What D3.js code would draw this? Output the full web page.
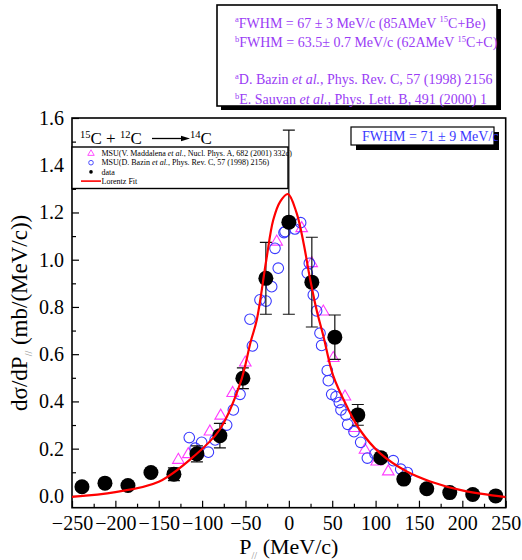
<!DOCTYPE html>
<html>
<head>
<meta charset="utf-8">
<script src="https://cdn.jsdelivr.net/npm/d3@7"></script>
<style>
  html, body { margin: 0; padding: 0; background: #fff; }
</style>
</head>
<body>
<svg id="chart" width="522" height="560"></svg>
<script>
// Measured momentum distribution (black points with error bars)
const dataP   = [-238.5, -212, -185.5, -159, -132.5, -106, -79.5, -53, -26.5, 0, 26.5, 53, 79.5, 106, 132.5, 159, 185.5, 212, 238.5];
const dataY   = [0.039, 0.054, 0.044, 0.099, 0.092, 0.178, 0.255, 0.498, 0.921, 1.159, 0.905, 0.672, 0.343, 0.162, 0.071, 0.030, 0.014, 0.006, 0.0];
const dataErr = [0.01, 0.01, 0.01, 0.01, 0.027, 0.034, 0.052, 0.044, 0.152, 0.39, 0.19, 0.094, 0.044, 0.012, 0.01, 0.008, 0.006, 0.005, 0.005];

// MSU, Bazin et al. (open blue circles)
const bazinP = [-114.8, -108, -100.5, -92.8, -85, -71.7, -64, -56.3, -53, -42, -44.8, -33.3, -26.3, -19.8, -12.2, -16, -5.6, -4.4, 7, 13.6,
                21.3, 23.6, 28.2, 32, 35.9, 37.8, 44.3, 45.5, 49.4, 54.4, 58.2, 60.1, 65.9, 67.8, 75.1, 82.8, 90.5, 99.3, 120.4, 129, 136.6];
const bazinY = [0.247, 0.202, 0.227, 0.185, 0.237, 0.300, 0.364, 0.430, 0.495, 0.635, 0.748, 0.830, 0.825, 0.886, 0.964, 1.048, 1.115, 1.119, 1.130, 1.157,
                0.943, 0.985, 0.851, 0.783, 0.689, 0.637, 0.531, 0.488, 0.430, 0.420, 0.395, 0.364, 0.343, 0.303, 0.272, 0.227, 0.160, 0.178, 0.149, 0.113, 0.099];

// MSU, Maddalena et al. (open magenta triangles)
const maddP = [-127.4, -116, -91, -78.6, -64.8, -50.2, -14, 14.8, 26.3, 39.7, 51.2, 64.7, 76.3, 87.8, 101.3, 114.6];
const maddY = [0.152, 0.176, 0.272, 0.339, 0.435, 0.564, 1.076, 1.133, 0.985, 0.780, 0.583, 0.420, 0.287, 0.195, 0.145, 0.103];

// Lorentz fit curve, sampled along P
const fitP = [-250, -200, -150, -110, -80, -56, -44, -37, -26, -18, -10, -1, 9, 17, 24, 32, 40, 51, 67, 82, 105, 136, 163, 201, 250];
const fitY = [-0.004, 0.016, 0.060, 0.166, 0.279, 0.477, 0.653, 0.745, 0.999, 1.168, 1.246, 1.278, 1.197, 1.07, 0.928, 0.787, 0.674, 0.51, 0.378, 0.279, 0.181, 0.103, 0.061, 0.022, -0.005];

// Axis ticks
const xMajor = [-250, -200, -150, -100, -50, 0, 50, 100, 150, 200, 250];
const xMinor = [-225, -175, -125, -75, -25, 25, 75, 125, 175, 225];
const yMajor = [0.0, 0.2, 0.4, 0.6, 0.8, 1.0, 1.2, 1.4, 1.6];
const yMinor = [0.1, 0.3, 0.5, 0.7, 0.9, 1.1, 1.3, 1.5];

const FONT = '"Liberation Serif"';
const svg = d3.select("#chart");
const L = 72, R = 505.7, T = 118, B = 507.7;
const x = d3.scaleLinear().domain([-250, 250]).range([L, R]);
const y = d3.scaleLinear().domain([-0.05, 1.6]).range([B, T]);

const purple = "#9a3cf5", blue = "#3a3aff", magenta = "#ff3cff";

svg.append("defs").append("clipPath").attr("id", "plot-clip")
  .append("rect").attr("x", L).attr("y", T).attr("width", R - L).attr("height", B - T);

// Axes with inward ticks
const gx = svg.append("g").attr("transform", `translate(0,${B})`)
  .call(d3.axisBottom(x).tickValues(xMajor).tickSize(-7).tickPadding(8).tickFormat(d3.format("d")));
svg.append("g").attr("transform", `translate(0,${B})`)
  .call(d3.axisBottom(x).tickValues(xMinor).tickSize(-4).tickFormat(""));
const gy = svg.append("g").attr("transform", `translate(${L},0)`)
  .call(d3.axisLeft(y).tickValues(yMajor).tickSize(-7).tickPadding(8).tickFormat(d3.format(".1f")));
svg.append("g").attr("transform", `translate(${L},0)`)
  .call(d3.axisLeft(y).tickValues(yMinor).tickSize(-4).tickFormat(""));
svg.selectAll(".domain").remove();
svg.selectAll(".tick line").attr("stroke", "#000").attr("stroke-width", 1.2);
svg.selectAll(".tick text").attr("font-size", 20).attr("fill", "#000");
gx.selectAll(".tick text").attr("dy", "0.71em");

// Frame
svg.append("rect").attr("x", L).attr("y", T).attr("width", R - L).attr("height", B - T)
  .attr("fill", "none").attr("stroke", "#000").attr("stroke-width", 1.6);

const plot = svg.append("g").attr("clip-path", "url(#plot-clip)");

// Maddalena triangles
const tri = d3.symbol().type(d3.symbolTriangle).size(58);
plot.selectAll("path.madd").data(d3.range(maddP.length)).join("path")
  .attr("class", "madd")
  .attr("transform", i => `translate(${x(maddP[i])},${y(maddY[i])})`)
  .attr("d", tri).attr("fill", "none").attr("stroke", magenta).attr("stroke-width", 1.1);

// Bazin circles
plot.selectAll("circle.bazin").data(d3.range(bazinP.length)).join("circle")
  .attr("class", "bazin")
  .attr("cx", i => x(bazinP[i])).attr("cy", i => y(bazinY[i])).attr("r", 5.3)
  .attr("fill", "none").attr("stroke", blue).attr("stroke-width", 1.1);

// Error bars
const eb = plot.selectAll("g.err").data(d3.range(dataP.length)).join("g").attr("class", "err")
  .attr("stroke", "#111").attr("stroke-width", 1.2);
eb.append("line").attr("x1", i => x(dataP[i])).attr("x2", i => x(dataP[i]))
  .attr("y1", i => y(dataY[i] - dataErr[i])).attr("y2", i => y(dataY[i] + dataErr[i]));
eb.append("line").attr("x1", i => x(dataP[i]) - 6).attr("x2", i => x(dataP[i]) + 6)
  .attr("y1", i => y(dataY[i] + dataErr[i])).attr("y2", i => y(dataY[i] + dataErr[i]));
eb.append("line").attr("x1", i => x(dataP[i]) - 6).attr("x2", i => x(dataP[i]) + 6)
  .attr("y1", i => y(dataY[i] - dataErr[i])).attr("y2", i => y(dataY[i] - dataErr[i]));

// Data points
plot.selectAll("circle.data").data(d3.range(dataP.length)).join("circle")
  .attr("class", "data")
  .attr("cx", i => x(dataP[i])).attr("cy", i => y(dataY[i])).attr("r", 7.5).attr("fill", "#000");

// Lorentz fit
const line = d3.line().x(i => x(fitP[i])).y(i => y(fitY[i])).curve(d3.curveCatmullRom.alpha(0.5));
plot.append("path").datum(d3.range(fitP.length)).attr("d", line)
  .attr("fill", "none").attr("stroke", "#ff0000").attr("stroke-width", 2.2);

// Reaction label
const rx = svg.append("text").attr("x", 80).attr("y", 144).attr("font-size", 17).attr("fill", "#000");
rx.append("tspan").attr("font-size", 10.5).attr("dy", -6.5).text("15");
rx.append("tspan").attr("dy", 6.5).text("C + ");
rx.append("tspan").attr("font-size", 10.5).attr("dy", -6.5).text("12");
rx.append("tspan").attr("dy", 6.5).text("C");
svg.append("line").attr("x1", 152).attr("x2", 183).attr("y1", 138.5).attr("y2", 138.5).attr("stroke", "#000").attr("stroke-width", 1.3);
svg.append("path").attr("d", "M181,135.8 L190,138.5 L181,141.2 Z").attr("fill", "#000");
const rx2 = svg.append("text").attr("x", 190).attr("y", 144).attr("font-size", 17).attr("fill", "#000");
rx2.append("tspan").attr("font-size", 10.5).attr("dy", -6.5).text("14");
rx2.append("tspan").attr("dy", 6.5).text("C");

// Legend
const lg = svg.append("g");
lg.append("rect").attr("x", L).attr("y", 147).attr("width", 216).attr("height", 41.5)
  .attr("fill", "#fff").attr("stroke", "#000").attr("stroke-width", 1.4);
const legendRows = [
  { type: "tri", parts: [["MSU(V. Maddalena ", false], ["et al.", true], [", Nucl. Phys. A, 682 (2001) 332c)", false]] },
  { type: "circ", parts: [["MSU(D. Bazin ", false], ["et al.", true], [", Phys. Rev. C, 57 (1998) 2156)", false]] },
  { type: "dot", parts: [["data", false]] },
  { type: "line", parts: [["Lorentz Fit", false]] }
];
legendRows.forEach((r, k) => {
  const cy = 153.5 + k * 9.2;
  if (r.type === "tri") lg.append("path").attr("transform", `translate(91,${cy})`).attr("d", d3.symbol().type(d3.symbolTriangle).size(18))
    .attr("fill", "none").attr("stroke", magenta).attr("stroke-width", 0.9);
  if (r.type === "circ") lg.append("circle").attr("cx", 91).attr("cy", cy).attr("r", 2.3).attr("fill", "none").attr("stroke", blue).attr("stroke-width", 0.9);
  if (r.type === "dot") lg.append("circle").attr("cx", 91).attr("cy", cy).attr("r", 1.8).attr("fill", "#000");
  if (r.type === "line") lg.append("line").attr("x1", 81).attr("x2", 101).attr("y1", cy).attr("y2", cy).attr("stroke", "#ff0000").attr("stroke-width", 1.6);
  const t = lg.append("text").attr("x", 101.5).attr("y", cy + 2.6).attr("font-size", 8).attr("fill", "#000");
  r.parts.forEach(p => t.append("tspan").style("font-style", p[1] ? "italic" : "normal").text(p[0]));
});

// FWHM box
svg.append("rect").attr("x", 356).attr("y", 132).attr("width", 143).attr("height", 18).attr("fill", "#000");
svg.append("rect").attr("x", 351).attr("y", 127).attr("width", 143).attr("height", 18)
  .attr("fill", "#fff").attr("stroke", "#000").attr("stroke-width", 1.2);
svg.append("text").attr("x", 362).attr("y", 140.8).attr("font-size", 14).attr("fill", blue)
  .text("FWHM = 71 \u00b1 9 MeV/c");

// Reference box (top right)
svg.append("rect").attr("x", 221).attr("y", 9).attr("width", 280).attr("height", 101).attr("fill", "#000");
svg.append("rect").attr("x", 217).attr("y", 5).attr("width", 280).attr("height", 101)
  .attr("fill", "#fff").attr("stroke", "#000").attr("stroke-width", 1.6);

const refLines = [
  { y: 27.5,  parts: [["a", "sup"], ["FWHM = 67 \u00b1 3 MeV/c (85AMeV ", ""], ["15", "sup"], ["C+Be)", ""]] },
  { y: 47,    parts: [["b", "sup"], ["FWHM = 63.5\u00b1 0.7 MeV/c (62AMeV ", ""], ["15", "sup"], ["C+C)", ""]] },
  { y: 84,    parts: [["a", "sup"], ["D. Bazin ", ""], ["et al.", "it"], [", Phys. Rev. C, 57 (1998) 2156", ""]] },
  { y: 104,   parts: [["b", "sup"], ["E. Sauvan ", ""], ["et al.", "it"], [", Phys. Lett. B, 491 (2000) 1", ""]] }
];
refLines.forEach(l => {
  const t = svg.append("text").attr("x", 235).attr("y", l.y).attr("font-size", 14).attr("fill", purple);
  let raised = false;
  l.parts.forEach(p => {
    const s = t.append("tspan").text(p[0]);
    if (p[1] === "sup") { s.attr("font-size", 8.5).attr("dy", raised ? 0 : -5.5); raised = true; }
    else { if (raised) s.attr("dy", 5.5); raised = false; }
    if (p[1] === "it") s.style("font-style", "italic");
  });
});

// Axis titles
const yt = svg.append("text").attr("transform", `translate(27,${(T + B) / 2}) rotate(-90)`)
  .attr("text-anchor", "middle").attr("font-size", 23).attr("fill", "#000");
yt.append("tspan").text("d\u03c3/dP");
yt.append("tspan").attr("font-size", 10).attr("dy", 5).attr("fill", "#888").text("//");
yt.append("tspan").attr("dy", -5).text(" (mb/(MeV/c))");

const xt = svg.append("text").attr("x", (L + R) / 2).attr("y", 554)
  .attr("text-anchor", "middle").attr("font-size", 22).attr("fill", "#000");
xt.append("tspan").text("P");
xt.append("tspan").attr("font-size", 10).attr("dy", 5).attr("fill", "#888").text("//");
xt.append("tspan").attr("dy", -5).text(" (MeV/c)");

// Serif face on every label
svg.selectAll("text").style("font-family", FONT);
</script>
</body>
</html>
